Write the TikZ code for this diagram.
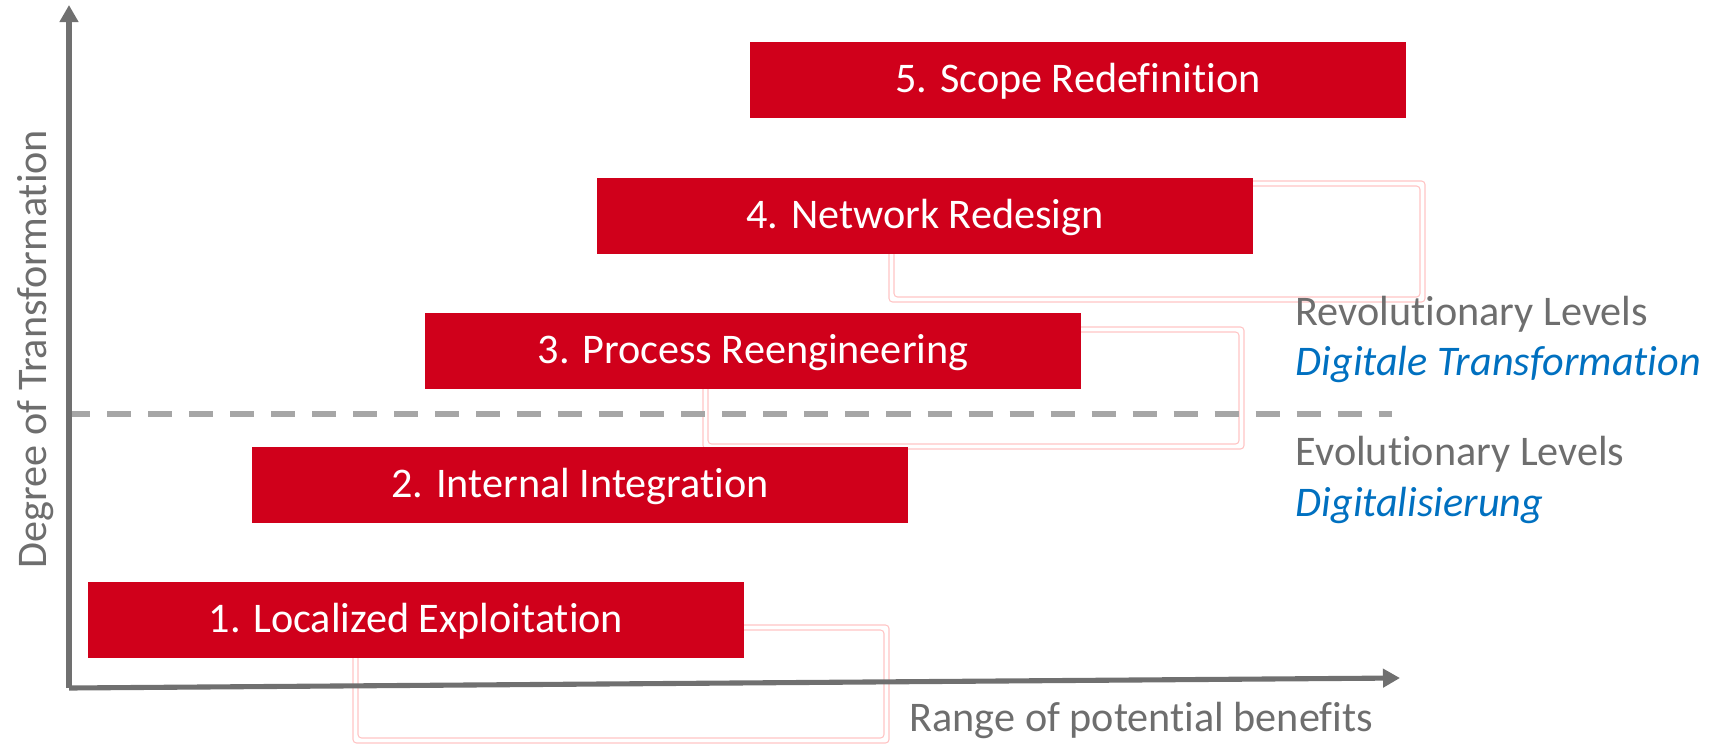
\documentclass[tikz,border=0pt]{standalone}
\usepackage{fontspec}
\setmainfont{Carlito}[Ligatures=NoCommon]
\usetikzlibrary{arrows.meta}
\definecolor{levelred}{RGB}{208,0,27}
\definecolor{axisgrey}{RGB}{112,112,112}
\definecolor{textgrey}{RGB}{110,110,110}
\definecolor{dashgrey}{RGB}{166,166,166}
\definecolor{digiblue}{RGB}{0,112,192}
\definecolor{shadowpink}{RGB}{255,196,196}

\begin{document}
\begin{tikzpicture}[x=0.01cm, y=-0.01cm, font=\fontsize{12}{14}\selectfont,
    >={Triangle[length=0.17cm,width=0.18cm]},
    level/.style={fill=levelred, text=white, minimum width=6.56cm, minimum height=0.75cm, inner sep=0pt,
      text height=0.75em, text depth=0.05em},
    sidetext/.style={text=textgrey, inner sep=0pt},
    bluetext/.style={text=digiblue, inner sep=0pt, font=\fontsize{12}{14}\selectfont\itshape},
    shadowline/.style={shadowpink, line width=0.3pt, rounded corners=1pt}]

    \useasboundingbox (0,0) rectangle (1721,745);

    % faint outlines behind the levels
    \draw[shadowline] (353,625) rectangle (889,743);
    \draw[shadowline] (358,630) rectangle (884,738);
    \draw[shadowline] (703,327) rectangle (1244,449);
    \draw[shadowline] (708,332) rectangle (1239,444);
    \draw[shadowline] (889,181) rectangle (1425,302);
    \draw[shadowline] (894,186) rectangle (1420,297);

    % border between evolutionary and revolutionary levels
    \coordinate (dashL) at (66,414);
    \coordinate (dashR) at (1392,414);
    \draw[dashgrey, line width=1.7pt, dash pattern=on 0.24cm off 0.17cm] (dashL) -- (dashR);

    \node[level] (level5) at (1078,80) {5. Scope Redefinition};
    \node[level] (level4) at (925,216) {4. Network Redesign};
    \node[level] (level3) at (753,351) {3. Process Reengineering};
    \node[level] (level2) at (580,485) {2. Internal Integration};
    \node[level] (level1) at (416,620) {1. Localized Exploitation};

    % axes
    \coordinate (origin) at (69,688);
    \coordinate (xend) at (1400,678);
    \coordinate (yend) at (69,5);
    \draw[axisgrey, line width=1.45pt, ->] (origin) -- (xend);
    \draw[axisgrey, line width=1.45pt, ->] (origin) -- (yend);

    \node[sidetext, anchor=base west] (xlabel) at (909,731) {Range of potential benefits};
    \node[sidetext, rotate=90, anchor=base] (ylabel) at (46,349) {Degree of Transformation};

    \node[sidetext, anchor=base west] (revol) at (1295,325) {Revolutionary Levels};
    \node[bluetext, anchor=base west] (digitrans) at (1295,375) {Digitale Transformation};
    \node[sidetext, anchor=base west] (evol) at (1295,465) {Evolutionary Levels};
    \node[bluetext, anchor=base west] (digital) at (1295,516) {Digitalisierung};

\end{tikzpicture}
\end{document}
